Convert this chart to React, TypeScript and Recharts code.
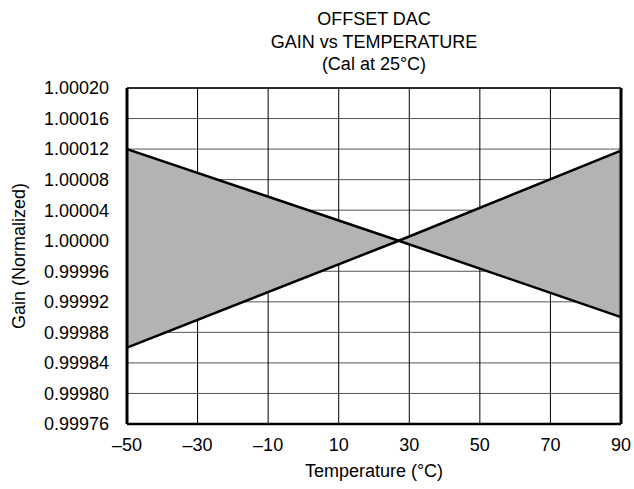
import { ComposedChart, Area, Line, XAxis, YAxis, CartesianGrid, ReferenceLine } from 'recharts';

const temps = [-50, 27, 90];
const gainDown = [1.00012, 1.0, 0.9999];
const gainUp = [0.99986, 1.0, 1.000118];
const xTicks = [-50, -30, -10, 10, 30, 50, 70, 90];
const yTicks = [
  0.99976, 0.9998, 0.99984, 0.99988, 0.99992, 0.99996, 1.0, 1.00004, 1.00008, 1.00012, 1.00016, 1.0002,
];

const data = temps.map((t, i) => ({
  t,
  down: gainDown[i],
  up: gainUp[i],
  band: [Math.min(gainDown[i], gainUp[i]), Math.max(gainDown[i], gainUp[i])],
}));

const FONT = 'Liberation Sans, Arial, sans-serif';
const FS = 18;
const fmtX = (v: number) => (v < 0 ? '\u2013' + Math.abs(v) : String(v));

export default function App() {
  return (
    <div style={{ position: 'absolute', left: 0, top: 0, width: 634, height: 489, background: '#fff', fontFamily: FONT }}>
      <div style={{ position: 'absolute', left: 127, width: 494, top: 8, textAlign: 'center', fontSize: FS, lineHeight: '22.5px', color: '#000' }}>
        <div>OFFSET DAC</div>
        <div>GAIN vs TEMPERATURE</div>
        <div>(Cal at 25°C)</div>
      </div>
      <ComposedChart width={634} height={489} data={data} margin={{ top: 88, right: 13, bottom: 0, left: 0 }}>
        <CartesianGrid stroke="#555" vertical={false} />
        <CartesianGrid stroke="#000" horizontal={false} />
        <XAxis
          dataKey="t"
          type="number"
          domain={[-50, 90]}
          ticks={xTicks}
          tickFormatter={fmtX}
          height={65}
          tickLine={false}
          axisLine={{ stroke: '#000', strokeWidth: 2.5 }}
          tick={{ fill: '#000', fontSize: FS, fontFamily: FONT }}
          tickMargin={8}
          label={{ value: 'Temperature (°C)', position: 'insideBottom', offset: 12, fill: '#000', fontSize: FS, fontFamily: FONT }}
        />
        <YAxis
          type="number"
          domain={[0.99976, 1.0002]}
          ticks={yTicks}
          tickFormatter={(v: number) => v.toFixed(5)}
          width={127}
          tickLine={false}
          axisLine={{ stroke: '#000', strokeWidth: 3 }}
          tick={{ fill: '#000', fontSize: FS, fontFamily: FONT }}
          tickMargin={12}
          allowDataOverflow
          label={{ value: 'Gain (Normalized)', angle: -90, position: 'insideLeft', offset: 19, fill: '#000', fontSize: FS, fontFamily: FONT, style: { textAnchor: 'middle' } }}
        />
        <Area dataKey="band" type="linear" fill="#b3b3b3" fillOpacity={1} stroke="none" isAnimationActive={false} />
        <ReferenceLine x={90} stroke="#000" strokeWidth={3} />
        <ReferenceLine y={1.0002} stroke="#000" strokeWidth={1.5} />
        <Line dataKey="down" type="linear" stroke="#000" strokeWidth={2.5} dot={false} isAnimationActive={false} />
        <Line dataKey="up" type="linear" stroke="#000" strokeWidth={2.5} dot={false} isAnimationActive={false} />
      </ComposedChart>
    </div>
  );
}
